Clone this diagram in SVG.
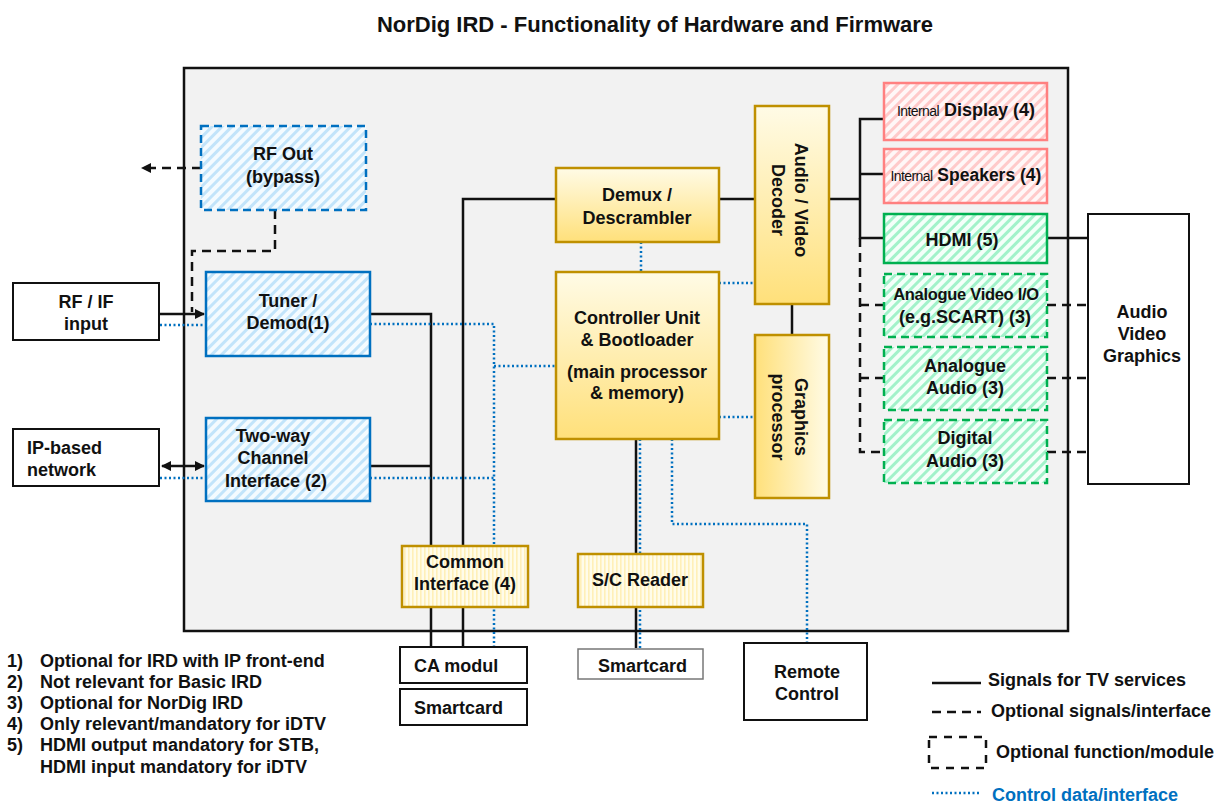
<svg xmlns="http://www.w3.org/2000/svg" width="1220" height="803" viewBox="0 0 1220 803">
<defs>
<style>
text{font-family:"Liberation Sans",Arial,sans-serif;font-weight:bold;font-size:18px;fill:#111;}
.c{text-anchor:middle;}
.sm{font-size:14px;font-weight:normal;letter-spacing:-0.6px;}
.box{fill:#fff;stroke:#111;stroke-width:2;}
.blue{fill:url(#hb);stroke:#0070c0;stroke-width:2.5;}
.blued{fill:url(#hb);stroke:#0070c0;stroke-width:2.5;stroke-dasharray:8 5;}
.pink{fill:url(#hp);stroke:#ff8080;stroke-width:2.5;}
.green{fill:url(#hg);stroke:#00b050;stroke-width:2.5;}
.greend{fill:url(#hg);stroke:#00b050;stroke-width:2.5;stroke-dasharray:8 5;}
.gold{stroke:#bf9000;stroke-width:2.5;}
.sol{fill:none;stroke:#111;stroke-width:2.5;}
.dsh{fill:none;stroke:#111;stroke-width:2.5;stroke-dasharray:9 6;}
.dot{fill:none;stroke:#0070c0;stroke-width:2.5;stroke-dasharray:2 2.5;}
</style>
<pattern id="hb" width="7" height="7" patternUnits="userSpaceOnUse" patternTransform="rotate(45)">
<rect width="7" height="7" fill="#f4fbff"/><rect width="3" height="7" fill="#c2e4fa"/></pattern>
<pattern id="hp" width="7" height="7" patternUnits="userSpaceOnUse" patternTransform="rotate(45)">
<rect width="7" height="7" fill="#fff7f7"/><rect width="3" height="7" fill="#ffcaca"/></pattern>
<pattern id="hg" width="7" height="7" patternUnits="userSpaceOnUse" patternTransform="rotate(45)">
<rect width="7" height="7" fill="#f4fff9"/><rect width="3" height="7" fill="#a2f2ca"/></pattern>
<pattern id="vy" width="4" height="4" patternUnits="userSpaceOnUse">
<rect width="4" height="4" fill="#fffcea"/><rect width="1.6" height="4" fill="#fff0b8"/></pattern>
<linearGradient id="gv" x1="0" y1="0" x2="0" y2="1"><stop offset="0" stop-color="#fffbe6"/><stop offset="1" stop-color="#ffe07a"/></linearGradient>
<linearGradient id="gh" x1="0" y1="0" x2="1" y2="0"><stop offset="0" stop-color="#ffe07a"/><stop offset="1" stop-color="#fffbe6"/></linearGradient>
<marker id="ah" markerWidth="10" markerHeight="10" refX="9" refY="5" orient="auto" markerUnits="userSpaceOnUse">
<path d="M0,0 L10,5 L0,10 z" fill="#111"/></marker>
<marker id="as" markerWidth="10" markerHeight="10" refX="1" refY="5" orient="auto" markerUnits="userSpaceOnUse">
<path d="M10,0 L0,5 L10,10 z" fill="#111"/></marker>
</defs>
<rect width="1220" height="803" fill="#fff"/>
<text class="c" x="655" y="32" style="font-size:22px">NorDig IRD - Functionality of Hardware and Firmware</text>
<g id="main"><rect x="184" y="68" width="884" height="563" fill="#f2f2f2" stroke="#111" stroke-width="2.5"/></g>

<g id="connectors">
<path class="sol" d="M160,314 H204" marker-end="url(#ah)"/>
<path class="sol" d="M162,466 H204" marker-end="url(#ah)" marker-start="url(#as)"/>
<path class="sol" d="M370,314 H431 V647"/>
<path class="sol" d="M370,466 H431"/>
<path class="sol" d="M463,647 V199 H556"/>
<path class="sol" d="M719,199 H754"/>
<path class="sol" d="M829,199 H860"/>
<path class="sol" d="M884,119 H860 V238 H884"/>
<path class="sol" d="M860,174 H884"/>
<path class="sol" d="M1047,238 H1088"/>
<path class="sol" d="M792,304 V335"/>
<path class="sol" d="M636,439 V648"/>
<path class="dsh" d="M201,168 H142" marker-end="url(#ah)"/>
<path class="dsh" d="M275,210 V251 H192 V312"/>
<path class="dsh" d="M860,238 V452 H884"/>
<path class="dsh" d="M860,305 H884 M860,378 H884"/>
<path class="dsh" d="M1047,305 H1088 M1047,378 H1088 M1047,452 H1088"/>
<path class="dot" d="M160,325 H206"/>
<path class="dot" d="M160,478 H206"/>
<path class="dot" d="M370,324 H494 V646"/>
<path class="dot" d="M370,478 H494"/>
<path class="dot" d="M494,366 H556"/>
<path class="dot" d="M641,242 V272"/>
<path class="dot" d="M719,283 H754"/>
<path class="dot" d="M719,417 H754"/>
<path class="dot" d="M640,439 V648"/>
<path class="dot" d="M672,439 V524 H807 V643"/>
</g>

<g id="rfout"><rect class="blued" x="201" y="126" width="165" height="84"/>
<text class="c" x="283" y="160">RF Out</text><text class="c" x="283" y="183">(bypass)</text></g>
<g id="rfif"><rect class="box" x="13" y="283" width="146" height="57"/>
<text class="c" x="86" y="308">RF / IF</text><text class="c" x="86" y="330">input</text></g>
<g id="tuner"><rect class="blue" x="206" y="272" width="164" height="84"/>
<text class="c" x="288" y="307">Tuner /</text><text class="c" x="288" y="329">Demod(1)</text></g>
<g id="ipnet"><rect class="box" x="13" y="429" width="146" height="57"/>
<text x="27" y="454">IP-based</text><text x="27" y="476">network</text></g>
<g id="twoway"><rect class="blue" x="206" y="418" width="164" height="83"/>
<text class="c" x="273" y="442">Two-way</text><text class="c" x="273" y="464">Channel</text><text class="c" x="276" y="487">Interface (2)</text></g>
<g id="ci"><rect class="gold" fill="url(#vy)" x="402" y="546" width="126" height="61"/>
<text class="c" x="465" y="568">Common</text><text class="c" x="465" y="590">Interface (4)</text></g>
<g id="demux"><rect class="gold" fill="url(#gv)" x="556" y="168" width="163" height="74"/>
<text class="c" x="637" y="201">Demux /</text><text class="c" x="637" y="224">Descrambler</text></g>
<g id="controller"><rect class="gold" fill="url(#gv)" x="556" y="272" width="163" height="167"/>
<text class="c" x="637" y="324">Controller Unit</text><text class="c" x="637" y="346">&amp; Bootloader</text>
<text class="c" x="637" y="378">(main processor</text><text class="c" x="637" y="399">&amp; memory)</text></g>
<g id="avdecoder"><rect class="gold" fill="url(#gv)" x="755" y="106" width="74" height="198"/>
<g transform="translate(792,200) rotate(90)"><text class="c" x="0" y="-3">Audio / Video</text><text class="c" x="0" y="20">Decoder</text></g></g>
<g id="graphics"><rect class="gold" fill="url(#gh)" x="755" y="335" width="74" height="163"/>
<g transform="translate(792,417) rotate(90)"><text class="c" x="0" y="-3">Graphics</text><text class="c" x="0" y="20">processor</text></g></g>
<g id="screader"><rect class="gold" fill="url(#vy)" x="578" y="554" width="125" height="53"/>
<text class="c" x="640" y="586">S/C Reader</text></g>
<g id="display"><rect class="pink" x="884" y="83" width="163" height="57"/>
<text class="c" x="966" y="116"><tspan class="sm">Internal</tspan> Display  (4)</text></g>
<g id="speakers"><rect class="pink" x="884" y="149" width="163" height="54"/>
<text class="c" x="966" y="181" style="font-size:17.5px"><tspan class="sm">Internal</tspan> Speakers (4)</text></g>
<g id="hdmi"><rect class="green" x="884" y="214" width="163" height="49"/>
<text class="c" x="962" y="246">HDMI  (5)</text></g>
<g id="anvideo"><rect class="greend" x="884" y="274" width="163" height="63"/>
<text class="c" x="966" y="300" style="font-size:16.5px;letter-spacing:-0.3px">Analogue Video I/O</text><text class="c" x="965" y="323">(e.g.SCART) (3)</text></g>
<g id="anaudio"><rect class="greend" x="884" y="347" width="163" height="63"/>
<text class="c" x="965" y="372">Analogue</text><text class="c" x="965" y="394">Audio (3)</text></g>
<g id="digaudio"><rect class="greend" x="884" y="420" width="163" height="63"/>
<text class="c" x="965" y="444">Digital</text><text class="c" x="965" y="467">Audio (3)</text></g>
<g id="avg"><rect class="box" x="1088" y="214" width="101" height="270"/>
<text class="c" x="1142" y="318">Audio</text><text class="c" x="1142" y="340">Video</text><text class="c" x="1142" y="362">Graphics</text></g>
<g id="camodul"><rect class="box" x="400" y="647" width="127" height="36"/><text x="414" y="672">CA modul</text></g>
<g id="smartcard1"><rect class="box" x="400" y="689" width="127" height="36"/><text x="414" y="714">Smartcard</text></g>
<g id="smartcard2"><rect x="578" y="649" width="125" height="30" fill="#fff" stroke="#777" stroke-width="1.5"/><text x="598" y="672">Smartcard</text></g>
<g id="remote"><rect class="box" x="744" y="643" width="123" height="77"/>
<text class="c" x="807" y="678">Remote</text><text class="c" x="807" y="700">Control</text></g>

<g id="footnotes">
<text x="7" y="667">1)</text><text x="40" y="667">Optional for IRD with IP front-end</text>
<text x="7" y="688">2)</text><text x="40" y="688">Not relevant for Basic IRD</text>
<text x="7" y="709">3)</text><text x="40" y="709">Optional for NorDig IRD</text>
<text x="7" y="730">4)</text><text x="40" y="730">Only relevant/mandatory for iDTV</text>
<text x="7" y="751">5)</text><text x="40" y="751">HDMI  output mandatory for STB,</text>
<text x="40" y="773">HDMI  input mandatory for iDTV</text>
</g>
<g id="legend">
<path class="sol" d="M932,683 H981"/><text x="988" y="686">Signals for TV services</text>
<path class="dsh" d="M932,712 H981"/><text x="991" y="717">Optional signals/interface</text>
<rect x="929" y="737" width="57" height="31" fill="none" stroke="#111" stroke-width="2.5" stroke-dasharray="8 7"/><text x="996" y="758">Optional function/module</text>
<path class="dot" d="M932,793 H981"/><text x="992" y="801" style="fill:#0070c0">Control data/interface</text>
</g>
</svg>
